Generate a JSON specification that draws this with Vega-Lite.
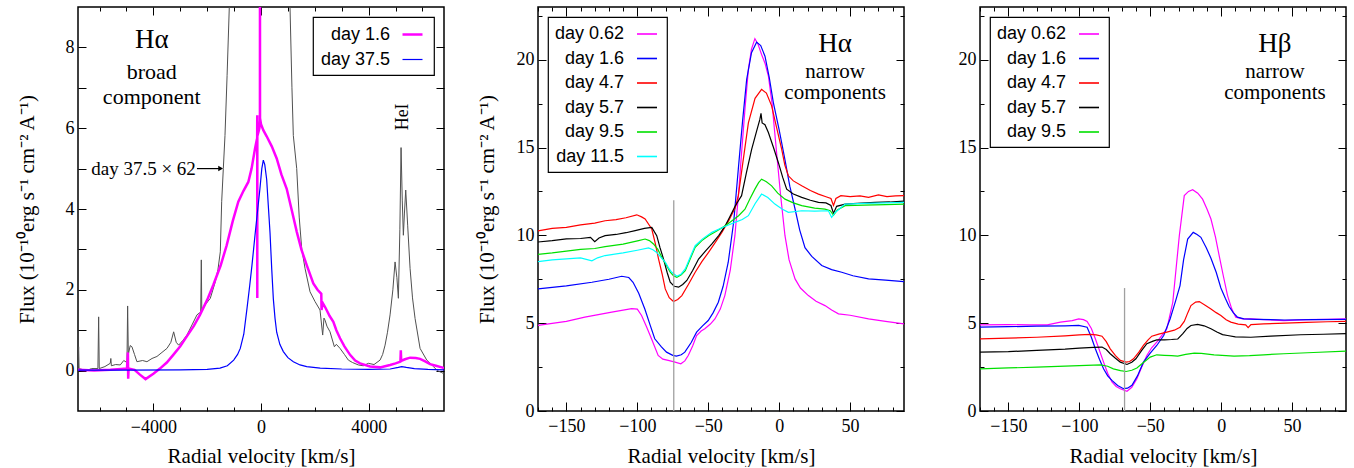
{
 "$schema": "https://vega.github.io/schema/vega-lite/v6.json",
 "background": "white",
 "padding": {"left": 15, "top": 5, "right": 5, "bottom": 0},
 "config": {
  "view": {"stroke": "black", "strokeWidth": 1.5},
  "axis": {"labelFont": "Liberation Serif", "labelFontSize": 18, "titleFont": "Liberation Serif", "titleFontSize": 21, "titleFontWeight": "normal", "labelColor": "black", "titleColor": "black", "tickColor": "black", "tickWidth": 1, "domain": false, "grid": false, "labelOverlap": false, "labelFlush": false},
  "legend": {"labelFont": "Liberation Sans", "labelFontSize": 18, "labelColor": "black", "symbolType": "stroke", "symbolStrokeWidth": 1.6, "symbolSize": 400, "strokeColor": "black", "strokeWidth": 1.2, "fillColor": "white", "padding": 6, "rowPadding": 4.5, "labelAlign": "right", "labelOffset": -34, "symbolOffset": 82, "labelLimit": 300, "offset": 10},
  "text": {"font": "Liberation Serif", "color": "black"}
 },
 "datasets": {
  "p1": [
   {"s":"day 1.6","v":-6800,"f":0.02},{"s":"day 1.6","v":-6200,"f":0.0},{"s":"day 1.6","v":-5600,"f":0.02},{"s":"day 1.6","v":-5200,"f":0.04},{"s":"day 1.6","v":-4980,"f":0.05},{"s":"day 1.6","v":-4945,"f":0.45},{"s":"day 1.6","v":-4935,"f":-0.2},{"s":"day 1.6","v":-4920,"f":0.05},{"s":"day 1.6","v":-4700,"f":0.02},{"s":"day 1.6","v":-4500,"f":-0.1},{"s":"day 1.6","v":-4290,"f":-0.21},{"s":"day 1.6","v":-4000,"f":-0.08},{"s":"day 1.6","v":-3755,"f":0.05},{"s":"day 1.6","v":-3500,"f":0.2},{"s":"day 1.6","v":-3260,"f":0.39},{"s":"day 1.6","v":-3000,"f":0.6},{"s":"day 1.6","v":-2763,"f":0.84},{"s":"day 1.6","v":-2500,"f":1.1},{"s":"day 1.6","v":-2268,"f":1.38},{"s":"day 1.6","v":-2000,"f":1.75},{"s":"day 1.6","v":-1773,"f":2.12},{"s":"day 1.6","v":-1500,"f":2.6},{"s":"day 1.6","v":-1276,"f":3.1},{"s":"day 1.6","v":-1050,"f":3.7},{"s":"day 1.6","v":-843,"f":4.18},{"s":"day 1.6","v":-650,"f":4.45},{"s":"day 1.6","v":-471,"f":4.67},{"s":"day 1.6","v":-350,"f":5.0},{"s":"day 1.6","v":-223,"f":5.49},{"s":"day 1.6","v":-160,"f":5.7},{"s":"day 1.6","v":-142,"f":5.75},{"s":"day 1.6","v":-140,"f":6.32},{"s":"day 1.6","v":-138,"f":1.8},{"s":"day 1.6","v":-136,"f":5.8},{"s":"day 1.6","v":-60,"f":6.0},{"s":"day 1.6","v":-40,"f":6.2},{"s":"day 1.6","v":-38,"f":9.8},{"s":"day 1.6","v":-36,"f":6.25},{"s":"day 1.6","v":0,"f":6.1},{"s":"day 1.6","v":86,"f":5.95},{"s":"day 1.6","v":210,"f":5.8},{"s":"day 1.6","v":400,"f":5.55},{"s":"day 1.6","v":583,"f":5.25},{"s":"day 1.6","v":760,"f":4.85},{"s":"day 1.6","v":955,"f":4.5},{"s":"day 1.6","v":1150,"f":3.95},{"s":"day 1.6","v":1327,"f":3.44},{"s":"day 1.6","v":1500,"f":3.0},{"s":"day 1.6","v":1699,"f":2.61},{"s":"day 1.6","v":1944,"f":2.16},{"s":"day 1.6","v":2100,"f":2.0},{"s":"day 1.6","v":2240,"f":1.9},{"s":"day 1.6","v":2250,"f":1.5},{"s":"day 1.6","v":2290,"f":1.68},{"s":"day 1.6","v":2400,"f":1.55},{"s":"day 1.6","v":2550,"f":1.35},{"s":"day 1.6","v":2688,"f":1.21},{"s":"day 1.6","v":2800,"f":1.0},{"s":"day 1.6","v":2937,"f":0.8},{"s":"day 1.6","v":3100,"f":0.6},{"s":"day 1.6","v":3309,"f":0.39},{"s":"day 1.6","v":3500,"f":0.25},{"s":"day 1.6","v":3680,"f":0.18},{"s":"day 1.6","v":4052,"f":0.1},{"s":"day 1.6","v":4424,"f":0.08},{"s":"day 1.6","v":4796,"f":0.14},{"s":"day 1.6","v":5000,"f":0.18},{"s":"day 1.6","v":5180,"f":0.22},{"s":"day 1.6","v":5195,"f":0.5},{"s":"day 1.6","v":5210,"f":0.24},{"s":"day 1.6","v":5350,"f":0.28},{"s":"day 1.6","v":5539,"f":0.32},{"s":"day 1.6","v":5750,"f":0.31},{"s":"day 1.6","v":5911,"f":0.29},{"s":"day 1.6","v":6100,"f":0.23},{"s":"day 1.6","v":6283,"f":0.16},{"s":"day 1.6","v":6500,"f":0.12},{"s":"day 1.6","v":6717,"f":0.08},{"s":"day 1.6","v":6800,"f":0.06},
   {"s":"day 37.5","v":-6800,"f":0.01},{"s":"day 37.5","v":-5000,"f":0.01},{"s":"day 37.5","v":-3000,"f":0.02},{"s":"day 37.5","v":-2000,"f":0.03},{"s":"day 37.5","v":-1524,"f":0.06},{"s":"day 37.5","v":-1250,"f":0.12},{"s":"day 37.5","v":-1015,"f":0.26},{"s":"day 37.5","v":-870,"f":0.4},{"s":"day 37.5","v":-770,"f":0.55},{"s":"day 37.5","v":-640,"f":0.9},{"s":"day 37.5","v":-520,"f":1.54},{"s":"day 37.5","v":-420,"f":2.1},{"s":"day 37.5","v":-335,"f":2.61},{"s":"day 37.5","v":-223,"f":3.35},{"s":"day 37.5","v":-120,"f":4.0},{"s":"day 37.5","v":-40,"f":4.5},{"s":"day 37.5","v":30,"f":5.0},{"s":"day 37.5","v":86,"f":5.21},{"s":"day 37.5","v":140,"f":5.1},{"s":"day 37.5","v":211,"f":4.73},{"s":"day 37.5","v":270,"f":4.1},{"s":"day 37.5","v":335,"f":3.41},{"s":"day 37.5","v":400,"f":2.5},{"s":"day 37.5","v":459,"f":1.77},{"s":"day 37.5","v":520,"f":1.3},{"s":"day 37.5","v":583,"f":0.95},{"s":"day 37.5","v":700,"f":0.65},{"s":"day 37.5","v":830,"f":0.47},{"s":"day 37.5","v":1000,"f":0.32},{"s":"day 37.5","v":1202,"f":0.22},{"s":"day 37.5","v":1450,"f":0.14},{"s":"day 37.5","v":1699,"f":0.1},{"s":"day 37.5","v":2200,"f":0.06},{"s":"day 37.5","v":3000,"f":0.04},{"s":"day 37.5","v":4000,"f":0.03},{"s":"day 37.5","v":4800,"f":0.04},{"s":"day 37.5","v":5100,"f":0.08},{"s":"day 37.5","v":5230,"f":0.1},{"s":"day 37.5","v":5400,"f":0.08},{"s":"day 37.5","v":5700,"f":0.05},{"s":"day 37.5","v":6200,"f":0.03},{"s":"day 37.5","v":6800,"f":0.02}
  ],
  "p1g": [
   {"v":-6800,"f":0.1},{"v":-6777,"f":0.59},{"v":-6760,"f":0.05},{"v":-6600,"f":0.02},{"v":-6480,"f":0.0},{"v":-6300,"f":0.05},{"v":-6060,"f":0.05},{"v":-6033,"f":1.33},{"v":-6010,"f":0.05},{"v":-5800,"f":0.1},{"v":-5602,"f":0.18},{"v":-5580,"f":0.3},{"v":-5560,"f":0.12},{"v":-5400,"f":0.15},{"v":-5230,"f":0.14},{"v":-5100,"f":0.25},{"v":-4980,"f":0.2},{"v":-4956,"f":1.6},{"v":-4930,"f":0.4},{"v":-4860,"f":0.62},{"v":-4796,"f":0.59},{"v":-4700,"f":0.4},{"v":-4610,"f":0.22},{"v":-4400,"f":0.25},{"v":-4238,"f":0.22},{"v":-4050,"f":0.3},{"v":-3866,"f":0.35},{"v":-3680,"f":0.45},{"v":-3494,"f":0.55},{"v":-3350,"f":0.7},{"v":-3246,"f":0.96},{"v":-3150,"f":0.7},{"v":-3060,"f":0.63},{"v":-2900,"f":0.75},{"v":-2751,"f":0.88},{"v":-2550,"f":1.15},{"v":-2379,"f":1.38},{"v":-2240,"f":1.45},{"v":-2218,"f":2.74},{"v":-2200,"f":1.5},{"v":-2130,"f":1.58},{"v":-1884,"f":1.79},{"v":-1698,"f":2.2},{"v":-1600,"f":2.5},{"v":-1512,"f":2.94},{"v":-1461,"f":4.18},{"v":-1400,"f":5.0},{"v":-1338,"f":5.82},{"v":-1260,"f":7.3},{"v":-1178,"f":9.0},{"v":-1050,"f":12},{"v":-800,"f":25},{"v":-500,"f":95},{"v":0,"f":300},{"v":500,"f":95},{"v":800,"f":25},{"v":1000,"f":12},{"v":1078,"f":9.0},{"v":1150,"f":7.0},{"v":1201,"f":5.82},{"v":1327,"f":5.0},{"v":1420,"f":3.8},{"v":1513,"f":3.02},{"v":1636,"f":2.53},{"v":1822,"f":1.95},{"v":2007,"f":1.71},{"v":2193,"f":1.5},{"v":2292,"f":0.88},{"v":2340,"f":1.3},{"v":2379,"f":1.25},{"v":2450,"f":1.1},{"v":2565,"f":0.96},{"v":2726,"f":0.59},{"v":2800,"f":0.65},{"v":2937,"f":0.55},{"v":3100,"f":0.4},{"v":3246,"f":0.26},{"v":3400,"f":0.2},{"v":3618,"f":0.14},{"v":3800,"f":0.12},{"v":3990,"f":0.18},{"v":4200,"f":0.15},{"v":4424,"f":0.26},{"v":4520,"f":0.4},{"v":4610,"f":0.63},{"v":4700,"f":0.95},{"v":4796,"f":1.38},{"v":4900,"f":2.0},{"v":4981,"f":2.69},{"v":5050,"f":2.3},{"v":5105,"f":1.79},{"v":5160,"f":3.5},{"v":5204,"f":5.52},{"v":5250,"f":4.2},{"v":5290,"f":3.35},{"v":5330,"f":3.9},{"v":5378,"f":4.47},{"v":5450,"f":3.6},{"v":5539,"f":2.53},{"v":5630,"f":1.8},{"v":5725,"f":1.29},{"v":5911,"f":0.55},{"v":6159,"f":0.26},{"v":6407,"f":0.1},{"v":6550,"f":0.0},{"v":6717,"f":-0.05},{"v":6800,"f":-0.08}
  ],
  "p1title": [{"v":-4060,"f":8.18,"t":"Hα"}],
  "p1sub": [{"v":-4060,"f":7.39,"t":"broad"},{"v":-4060,"f":6.77,"t":"component"}],
  "p1ann": [{"v":-2420,"f":5.0,"t":"day 37.5 × 62"}],
  "p1arrow": [{"v1":-2380,"v2":-1480,"f":5.0}],
  "p1head": [{"v":-1500,"f":5.0}],
  "p1hei": [{"v":5290,"f":6.28,"t":"HeI"}],
  "p2": [
   {"s":"day 0.62","v":-170,"f":4.88},{"s":"day 0.62","v":-150,"f":5.1},{"s":"day 0.62","v":-137,"f":5.34},{"s":"day 0.62","v":-118,"f":5.63},{"s":"day 0.62","v":-104,"f":5.83},{"s":"day 0.62","v":-100,"f":5.8},{"s":"day 0.62","v":-97,"f":5.44},{"s":"day 0.62","v":-93.5,"f":4.8},{"s":"day 0.62","v":-90,"f":4.11},{"s":"day 0.62","v":-85.3,"f":3.16},{"s":"day 0.62","v":-82,"f":2.95},{"s":"day 0.62","v":-78.2,"f":2.88},{"s":"day 0.62","v":-74,"f":2.8},{"s":"day 0.62","v":-69.3,"f":2.69},{"s":"day 0.62","v":-66.5,"f":2.85},{"s":"day 0.62","v":-64.1,"f":3.16},{"s":"day 0.62","v":-61,"f":3.7},{"s":"day 0.62","v":-58.2,"f":4.3},{"s":"day 0.62","v":-55,"f":4.55},{"s":"day 0.62","v":-52.4,"f":4.68},{"s":"day 0.62","v":-48.5,"f":4.95},{"s":"day 0.62","v":-45.3,"f":5.24},{"s":"day 0.62","v":-41.5,"f":5.8},{"s":"day 0.62","v":-38.3,"f":6.57},{"s":"day 0.62","v":-34.5,"f":8.0},{"s":"day 0.62","v":-31.2,"f":9.98},{"s":"day 0.62","v":-28.5,"f":12.5},{"s":"day 0.62","v":-26.5,"f":14.7},{"s":"day 0.62","v":-24,"f":17.3},{"s":"day 0.62","v":-21.7,"f":19.45},{"s":"day 0.62","v":-19.5,"f":20.6},{"s":"day 0.62","v":-17.1,"f":21.2},{"s":"day 0.62","v":-15,"f":20.9},{"s":"day 0.62","v":-12.4,"f":20.3},{"s":"day 0.62","v":-10,"f":19.8},{"s":"day 0.62","v":-7.6,"f":19.07},{"s":"day 0.62","v":-5,"f":17.5},{"s":"day 0.62","v":-1.8,"f":14.7},{"s":"day 0.62","v":1,"f":12.3},{"s":"day 0.62","v":4.1,"f":9.98},{"s":"day 0.62","v":7,"f":8.6},{"s":"day 0.62","v":11.2,"f":7.52},{"s":"day 0.62","v":15,"f":7.0},{"s":"day 0.62","v":20.6,"f":6.57},{"s":"day 0.62","v":26,"f":6.25},{"s":"day 0.62","v":32.3,"f":6.0},{"s":"day 0.62","v":37,"f":5.75},{"s":"day 0.62","v":41.8,"f":5.53},{"s":"day 0.62","v":50,"f":5.45},{"s":"day 0.62","v":63,"f":5.24},{"s":"day 0.62","v":75,"f":5.1},{"s":"day 0.62","v":88,"f":4.96},
   {"s":"day 1.6","v":-170,"f":6.95},{"s":"day 1.6","v":-150,"f":7.12},{"s":"day 1.6","v":-132,"f":7.33},{"s":"day 1.6","v":-120,"f":7.5},{"s":"day 1.6","v":-111,"f":7.67},{"s":"day 1.6","v":-106,"f":7.6},{"s":"day 1.6","v":-103,"f":7.33},{"s":"day 1.6","v":-99,"f":6.7},{"s":"day 1.6","v":-94.7,"f":5.81},{"s":"day 1.6","v":-91,"f":4.9},{"s":"day 1.6","v":-87.7,"f":4.11},{"s":"day 1.6","v":-83,"f":3.65},{"s":"day 1.6","v":-79.4,"f":3.35},{"s":"day 1.6","v":-75,"f":3.17},{"s":"day 1.6","v":-72.4,"f":3.13},{"s":"day 1.6","v":-69,"f":3.2},{"s":"day 1.6","v":-66.5,"f":3.35},{"s":"day 1.6","v":-62,"f":3.9},{"s":"day 1.6","v":-58.2,"f":4.49},{"s":"day 1.6","v":-54,"f":4.85},{"s":"day 1.6","v":-50,"f":5.15},{"s":"day 1.6","v":-46.5,"f":5.6},{"s":"day 1.6","v":-42.9,"f":6.19},{"s":"day 1.6","v":-39.5,"f":7.1},{"s":"day 1.6","v":-35.9,"f":8.47},{"s":"day 1.6","v":-32,"f":10.8},{"s":"day 1.6","v":-28.8,"f":13.77},{"s":"day 1.6","v":-25.8,"f":16.5},{"s":"day 1.6","v":-22.9,"f":18.88},{"s":"day 1.6","v":-19.5,"f":20.4},{"s":"day 1.6","v":-15.9,"f":21.0},{"s":"day 1.6","v":-13,"f":20.8},{"s":"day 1.6","v":-10,"f":20.2},{"s":"day 1.6","v":-7,"f":19.0},{"s":"day 1.6","v":-4.1,"f":17.56},{"s":"day 1.6","v":0,"f":16.0},{"s":"day 1.6","v":4.1,"f":14.3},{"s":"day 1.6","v":7.5,"f":12.8},{"s":"day 1.6","v":11.2,"f":11.5},{"s":"day 1.6","v":14.5,"f":10.3},{"s":"day 1.6","v":18.2,"f":9.3},{"s":"day 1.6","v":23,"f":8.8},{"s":"day 1.6","v":30,"f":8.28},{"s":"day 1.6","v":37,"f":8.05},{"s":"day 1.6","v":44.1,"f":7.9},{"s":"day 1.6","v":52,"f":7.7},{"s":"day 1.6","v":63,"f":7.52},{"s":"day 1.6","v":75,"f":7.45},{"s":"day 1.6","v":88,"f":7.37},
   {"s":"day 4.7","v":-170,"f":10.25},{"s":"day 4.7","v":-160,"f":10.4},{"s":"day 4.7","v":-150,"f":10.45},{"s":"day 4.7","v":-140,"f":10.6},{"s":"day 4.7","v":-130,"f":10.7},{"s":"day 4.7","v":-122.7,"f":10.83},{"s":"day 4.7","v":-115,"f":10.9},{"s":"day 4.7","v":-108,"f":11.0},{"s":"day 4.7","v":-100.4,"f":11.17},{"s":"day 4.7","v":-97,"f":11.05},{"s":"day 4.7","v":-94.5,"f":10.93},{"s":"day 4.7","v":-89.8,"f":10.36},{"s":"day 4.7","v":-87.5,"f":9.6},{"s":"day 4.7","v":-85,"f":8.65},{"s":"day 4.7","v":-82.5,"f":7.8},{"s":"day 4.7","v":-80.3,"f":6.95},{"s":"day 4.7","v":-77.5,"f":6.45},{"s":"day 4.7","v":-74.5,"f":6.23},{"s":"day 4.7","v":-71.5,"f":6.35},{"s":"day 4.7","v":-68.6,"f":6.57},{"s":"day 4.7","v":-64,"f":7.2},{"s":"day 4.7","v":-59.2,"f":7.9},{"s":"day 4.7","v":-54.5,"f":8.5},{"s":"day 4.7","v":-49.8,"f":9.03},{"s":"day 4.7","v":-45,"f":9.6},{"s":"day 4.7","v":-40.4,"f":10.17},{"s":"day 4.7","v":-35.5,"f":10.85},{"s":"day 4.7","v":-30.9,"f":11.59},{"s":"day 4.7","v":-28.8,"f":12.26},{"s":"day 4.7","v":-25.5,"f":14.2},{"s":"day 4.7","v":-21.7,"f":16.4},{"s":"day 4.7","v":-17,"f":17.8},{"s":"day 4.7","v":-12.4,"f":18.31},{"s":"day 4.7","v":-9,"f":18.1},{"s":"day 4.7","v":-5.3,"f":17.37},{"s":"day 4.7","v":-2,"f":16.2},{"s":"day 4.7","v":1.8,"f":14.9},{"s":"day 4.7","v":4,"f":14.0},{"s":"day 4.7","v":6.5,"f":13.39},{"s":"day 4.7","v":10,"f":13.1},{"s":"day 4.7","v":15.9,"f":12.82},{"s":"day 4.7","v":22,"f":12.55},{"s":"day 4.7","v":27.7,"f":12.35},{"s":"day 4.7","v":33,"f":12.2},{"s":"day 4.7","v":36.5,"f":12.1},{"s":"day 4.7","v":38.3,"f":11.7},{"s":"day 4.7","v":40,"f":12.1},{"s":"day 4.7","v":43.5,"f":12.26},{"s":"day 4.7","v":50,"f":12.2},{"s":"day 4.7","v":57,"f":12.25},{"s":"day 4.7","v":63,"f":12.16},{"s":"day 4.7","v":70,"f":12.3},{"s":"day 4.7","v":76,"f":12.2},{"s":"day 4.7","v":82,"f":12.25},{"s":"day 4.7","v":88,"f":12.26},
   {"s":"day 5.7","v":-170,"f":9.62},{"s":"day 5.7","v":-160,"f":9.7},{"s":"day 5.7","v":-150,"f":9.8},{"s":"day 5.7","v":-140,"f":9.82},{"s":"day 5.7","v":-133,"f":9.89},{"s":"day 5.7","v":-130,"f":9.64},{"s":"day 5.7","v":-127,"f":9.85},{"s":"day 5.7","v":-122.7,"f":9.98},{"s":"day 5.7","v":-115,"f":10.05},{"s":"day 5.7","v":-108,"f":10.15},{"s":"day 5.7","v":-101.5,"f":10.27},{"s":"day 5.7","v":-95,"f":10.4},{"s":"day 5.7","v":-89.8,"f":10.45},{"s":"day 5.7","v":-86.3,"f":9.98},{"s":"day 5.7","v":-84,"f":9.3},{"s":"day 5.7","v":-81.5,"f":8.65},{"s":"day 5.7","v":-79,"f":7.9},{"s":"day 5.7","v":-76.8,"f":7.33},{"s":"day 5.7","v":-74,"f":7.1},{"s":"day 5.7","v":-70.9,"f":7.05},{"s":"day 5.7","v":-68,"f":7.2},{"s":"day 5.7","v":-65.1,"f":7.43},{"s":"day 5.7","v":-61,"f":8.0},{"s":"day 5.7","v":-56.8,"f":8.65},{"s":"day 5.7","v":-52,"f":9.1},{"s":"day 5.7","v":-47.4,"f":9.51},{"s":"day 5.7","v":-42.5,"f":10.0},{"s":"day 5.7","v":-38,"f":10.55},{"s":"day 5.7","v":-34.5,"f":11.1},{"s":"day 5.7","v":-30.9,"f":11.68},{"s":"day 5.7","v":-28.5,"f":12.0},{"s":"day 5.7","v":-26.5,"f":12.26},{"s":"day 5.7","v":-23,"f":13.6},{"s":"day 5.7","v":-19.4,"f":14.9},{"s":"day 5.7","v":-16,"f":15.9},{"s":"day 5.7","v":-13.6,"f":16.6},{"s":"day 5.7","v":-12.8,"f":16.95},{"s":"day 5.7","v":-12,"f":16.4},{"s":"day 5.7","v":-10,"f":16.3},{"s":"day 5.7","v":-7.6,"f":15.85},{"s":"day 5.7","v":-4,"f":15.0},{"s":"day 5.7","v":-0.6,"f":14.15},{"s":"day 5.7","v":2.5,"f":13.3},{"s":"day 5.7","v":5.3,"f":12.63},{"s":"day 5.7","v":10,"f":12.35},{"s":"day 5.7","v":15.9,"f":12.16},{"s":"day 5.7","v":22,"f":12.0},{"s":"day 5.7","v":27.7,"f":11.88},{"s":"day 5.7","v":33,"f":11.85},{"s":"day 5.7","v":36.5,"f":11.7},{"s":"day 5.7","v":38.3,"f":11.25},{"s":"day 5.7","v":40.5,"f":11.65},{"s":"day 5.7","v":46.5,"f":11.78},{"s":"day 5.7","v":55,"f":11.82},{"s":"day 5.7","v":67.6,"f":11.88},{"s":"day 5.7","v":78,"f":11.9},{"s":"day 5.7","v":88,"f":11.95},
   {"s":"day 9.5","v":-170,"f":8.92},{"s":"day 9.5","v":-160,"f":9.0},{"s":"day 9.5","v":-150,"f":9.1},{"s":"day 9.5","v":-140,"f":9.2},{"s":"day 9.5","v":-130,"f":9.25},{"s":"day 9.5","v":-122.7,"f":9.36},{"s":"day 9.5","v":-110,"f":9.5},{"s":"day 9.5","v":-99.1,"f":9.7},{"s":"day 9.5","v":-94.5,"f":9.79},{"s":"day 9.5","v":-91.5,"f":9.7},{"s":"day 9.5","v":-88.6,"f":9.51},{"s":"day 9.5","v":-85.5,"f":9.2},{"s":"day 9.5","v":-82.7,"f":8.75},{"s":"day 9.5","v":-79.5,"f":8.3},{"s":"day 9.5","v":-76.8,"f":7.9},{"s":"day 9.5","v":-74.5,"f":7.7},{"s":"day 9.5","v":-72.1,"f":7.61},{"s":"day 9.5","v":-69,"f":7.75},{"s":"day 9.5","v":-66.2,"f":7.99},{"s":"day 9.5","v":-62.5,"f":8.7},{"s":"day 9.5","v":-59.2,"f":9.32},{"s":"day 9.5","v":-54.5,"f":9.7},{"s":"day 9.5","v":-49.8,"f":9.98},{"s":"day 9.5","v":-44,"f":10.25},{"s":"day 9.5","v":-38,"f":10.55},{"s":"day 9.5","v":-33,"f":10.85},{"s":"day 9.5","v":-28.6,"f":11.12},{"s":"day 9.5","v":-24.1,"f":11.49},{"s":"day 9.5","v":-20.5,"f":12.1},{"s":"day 9.5","v":-17.1,"f":12.63},{"s":"day 9.5","v":-14.5,"f":13.0},{"s":"day 9.5","v":-12.4,"f":13.2},{"s":"day 9.5","v":-9,"f":13.05},{"s":"day 9.5","v":-5.3,"f":12.82},{"s":"day 9.5","v":-1,"f":12.4},{"s":"day 9.5","v":4.1,"f":12.06},{"s":"day 9.5","v":10,"f":11.85},{"s":"day 9.5","v":15.9,"f":11.69},{"s":"day 9.5","v":25,"f":11.55},{"s":"day 9.5","v":32.3,"f":11.49},{"s":"day 9.5","v":36,"f":11.4},{"s":"day 9.5","v":38.3,"f":11.15},{"s":"day 9.5","v":41,"f":11.45},{"s":"day 9.5","v":46.5,"f":11.69},{"s":"day 9.5","v":60,"f":11.72},{"s":"day 9.5","v":75,"f":11.75},{"s":"day 9.5","v":88,"f":11.78},
   {"s":"day 11.5","v":-170,"f":8.5},{"s":"day 11.5","v":-160,"f":8.6},{"s":"day 11.5","v":-150,"f":8.66},{"s":"day 11.5","v":-140,"f":8.72},{"s":"day 11.5","v":-132,"f":8.55},{"s":"day 11.5","v":-128,"f":8.72},{"s":"day 11.5","v":-122.7,"f":8.85},{"s":"day 11.5","v":-110,"f":9.0},{"s":"day 11.5","v":-100,"f":9.15},{"s":"day 11.5","v":-92.1,"f":9.28},{"s":"day 11.5","v":-89,"f":9.18},{"s":"day 11.5","v":-86.3,"f":9.03},{"s":"day 11.5","v":-83.3,"f":8.75},{"s":"day 11.5","v":-80.3,"f":8.47},{"s":"day 11.5","v":-78,"f":8.15},{"s":"day 11.5","v":-75.7,"f":7.9},{"s":"day 11.5","v":-72.1,"f":7.67},{"s":"day 11.5","v":-69,"f":7.8},{"s":"day 11.5","v":-66.2,"f":8.09},{"s":"day 11.5","v":-62.5,"f":8.8},{"s":"day 11.5","v":-59.2,"f":9.41},{"s":"day 11.5","v":-54,"f":9.8},{"s":"day 11.5","v":-47.4,"f":10.17},{"s":"day 11.5","v":-40,"f":10.45},{"s":"day 11.5","v":-34,"f":10.65},{"s":"day 11.5","v":-31.2,"f":10.74},{"s":"day 11.5","v":-26,"f":10.9},{"s":"day 11.5","v":-21.7,"f":11.12},{"s":"day 11.5","v":-17,"f":11.8},{"s":"day 11.5","v":-12.4,"f":12.35},{"s":"day 11.5","v":-8,"f":12.15},{"s":"day 11.5","v":-3,"f":11.78},{"s":"day 11.5","v":2,"f":11.5},{"s":"day 11.5","v":6.5,"f":11.31},{"s":"day 11.5","v":15.9,"f":11.4},{"s":"day 11.5","v":25,"f":11.38},{"s":"day 11.5","v":34.7,"f":11.4},{"s":"day 11.5","v":37,"f":11.02},{"s":"day 11.5","v":39.5,"f":11.3},{"s":"day 11.5","v":46.5,"f":11.78},{"s":"day 11.5","v":60,"f":11.82},{"s":"day 11.5","v":75,"f":11.85},{"s":"day 11.5","v":88,"f":11.88}
  ],
  "p2line": [{"v":-74.3,"f0":0,"f1":12.0}],
  "p2title": [{"v":39.4,"f":20.87,"t":"Hα"}],
  "p2sub": [{"v":39.4,"f":19.32,"t":"narrow"},{"v":39.4,"f":18.09,"t":"components"}],
  "p3": [
   {"s":"day 0.62","v":-170,"f":4.9},{"s":"day 0.62","v":-150,"f":4.92},{"s":"day 0.62","v":-135,"f":4.9},{"s":"day 0.62","v":-122.6,"f":4.9},{"s":"day 0.62","v":-113.3,"f":5.06},{"s":"day 0.62","v":-105,"f":5.15},{"s":"day 0.62","v":-100.4,"f":5.24},{"s":"day 0.62","v":-97,"f":5.2},{"s":"day 0.62","v":-94.5,"f":5.1},{"s":"day 0.62","v":-91.5,"f":4.7},{"s":"day 0.62","v":-88.7,"f":4.11},{"s":"day 0.62","v":-85.8,"f":3.45},{"s":"day 0.62","v":-82.9,"f":2.78},{"s":"day 0.62","v":-80,"f":2.15},{"s":"day 0.62","v":-77,"f":1.65},{"s":"day 0.62","v":-74,"f":1.4},{"s":"day 0.62","v":-71.1,"f":1.27},{"s":"day 0.62","v":-66.4,"f":1.12},{"s":"day 0.62","v":-63,"f":1.35},{"s":"day 0.62","v":-59.4,"f":1.84},{"s":"day 0.62","v":-56,"f":2.5},{"s":"day 0.62","v":-52.4,"f":3.16},{"s":"day 0.62","v":-49,"f":3.6},{"s":"day 0.62","v":-45.4,"f":3.92},{"s":"day 0.62","v":-41.8,"f":4.3},{"s":"day 0.62","v":-38.3,"f":4.68},{"s":"day 0.62","v":-34.1,"f":6.19},{"s":"day 0.62","v":-29.5,"f":9.98},{"s":"day 0.62","v":-26,"f":12.26},{"s":"day 0.62","v":-23,"f":12.5},{"s":"day 0.62","v":-20.1,"f":12.6},{"s":"day 0.62","v":-16.5,"f":12.4},{"s":"day 0.62","v":-13.1,"f":12.06},{"s":"day 0.62","v":-10,"f":11.5},{"s":"day 0.62","v":-7.2,"f":10.93},{"s":"day 0.62","v":-4,"f":9.9},{"s":"day 0.62","v":-1.4,"f":8.85},{"s":"day 0.62","v":1.5,"f":7.7},{"s":"day 0.62","v":4.5,"f":6.57},{"s":"day 0.62","v":7.5,"f":5.8},{"s":"day 0.62","v":10.3,"f":5.34},{"s":"day 0.62","v":15,"f":5.25},{"s":"day 0.62","v":20.9,"f":5.24},{"s":"day 0.62","v":30,"f":5.2},{"s":"day 0.62","v":44.2,"f":5.15},{"s":"day 0.62","v":60,"f":5.2},{"s":"day 0.62","v":75,"f":5.22},{"s":"day 0.62","v":88,"f":5.24},
   {"s":"day 1.6","v":-170,"f":4.77},{"s":"day 1.6","v":-150,"f":4.8},{"s":"day 1.6","v":-130,"f":4.83},{"s":"day 1.6","v":-110,"f":4.85},{"s":"day 1.6","v":-100.4,"f":4.87},{"s":"day 1.6","v":-94.5,"f":4.77},{"s":"day 1.6","v":-91.5,"f":4.2},{"s":"day 1.6","v":-88.7,"f":3.54},{"s":"day 1.6","v":-85.8,"f":2.95},{"s":"day 1.6","v":-82.9,"f":2.4},{"s":"day 1.6","v":-80,"f":2.0},{"s":"day 1.6","v":-77,"f":1.74},{"s":"day 1.6","v":-73,"f":1.45},{"s":"day 1.6","v":-68.8,"f":1.27},{"s":"day 1.6","v":-66,"f":1.3},{"s":"day 1.6","v":-62.9,"f":1.46},{"s":"day 1.6","v":-59,"f":2.0},{"s":"day 1.6","v":-54.8,"f":2.78},{"s":"day 1.6","v":-50,"f":3.3},{"s":"day 1.6","v":-45.4,"f":3.73},{"s":"day 1.6","v":-40.5,"f":4.3},{"s":"day 1.6","v":-36,"f":5.24},{"s":"day 1.6","v":-32,"f":6.3},{"s":"day 1.6","v":-29,"f":7.14},{"s":"day 1.6","v":-26.5,"f":8.6},{"s":"day 1.6","v":-23.6,"f":9.79},{"s":"day 1.6","v":-19.7,"f":10.17},{"s":"day 1.6","v":-17,"f":10.05},{"s":"day 1.6","v":-14.3,"f":9.89},{"s":"day 1.6","v":-10.5,"f":9.3},{"s":"day 1.6","v":-7.2,"f":8.7},{"s":"day 1.6","v":-3.5,"f":7.9},{"s":"day 1.6","v":-0.2,"f":7.0},{"s":"day 1.6","v":3,"f":6.4},{"s":"day 1.6","v":5.6,"f":5.95},{"s":"day 1.6","v":8.5,"f":5.6},{"s":"day 1.6","v":11.5,"f":5.34},{"s":"day 1.6","v":16,"f":5.25},{"s":"day 1.6","v":25,"f":5.22},{"s":"day 1.6","v":45,"f":5.18},{"s":"day 1.6","v":65,"f":5.2},{"s":"day 1.6","v":88,"f":5.22},
   {"s":"day 4.7","v":-170,"f":4.11},{"s":"day 4.7","v":-150,"f":4.15},{"s":"day 4.7","v":-130,"f":4.2},{"s":"day 4.7","v":-110,"f":4.28},{"s":"day 4.7","v":-100,"f":4.33},{"s":"day 4.7","v":-92.2,"f":4.36},{"s":"day 4.7","v":-88,"f":4.33},{"s":"day 4.7","v":-84,"f":4.26},{"s":"day 4.7","v":-81,"f":3.95},{"s":"day 4.7","v":-78.2,"f":3.54},{"s":"day 4.7","v":-74.5,"f":3.15},{"s":"day 4.7","v":-71.1,"f":2.88},{"s":"day 4.7","v":-67,"f":2.78},{"s":"day 4.7","v":-64.5,"f":2.82},{"s":"day 4.7","v":-61.8,"f":2.97},{"s":"day 4.7","v":-58,"f":3.35},{"s":"day 4.7","v":-54.8,"f":3.73},{"s":"day 4.7","v":-51.5,"f":4.05},{"s":"day 4.7","v":-48.9,"f":4.26},{"s":"day 4.7","v":-44,"f":4.38},{"s":"day 4.7","v":-38.3,"f":4.49},{"s":"day 4.7","v":-33,"f":4.6},{"s":"day 4.7","v":-29,"f":4.77},{"s":"day 4.7","v":-26,"f":5.1},{"s":"day 4.7","v":-23.5,"f":5.6},{"s":"day 4.7","v":-21.3,"f":6.0},{"s":"day 4.7","v":-18,"f":6.2},{"s":"day 4.7","v":-15.4,"f":6.23},{"s":"day 4.7","v":-11,"f":6.0},{"s":"day 4.7","v":-7.2,"f":5.81},{"s":"day 4.7","v":-3.5,"f":5.6},{"s":"day 4.7","v":-0.2,"f":5.44},{"s":"day 4.7","v":3.5,"f":5.2},{"s":"day 4.7","v":6.8,"f":5.06},{"s":"day 4.7","v":12,"f":4.95},{"s":"day 4.7","v":17.3,"f":4.9},{"s":"day 4.7","v":19,"f":4.75},{"s":"day 4.7","v":21,"f":4.92},{"s":"day 4.7","v":30,"f":4.96},{"s":"day 4.7","v":45,"f":5.0},{"s":"day 4.7","v":60,"f":5.05},{"s":"day 4.7","v":75,"f":5.08},{"s":"day 4.7","v":88,"f":5.1},
   {"s":"day 5.7","v":-170,"f":3.35},{"s":"day 5.7","v":-150,"f":3.38},{"s":"day 5.7","v":-130,"f":3.45},{"s":"day 5.7","v":-110,"f":3.52},{"s":"day 5.7","v":-100,"f":3.58},{"s":"day 5.7","v":-90,"f":3.62},{"s":"day 5.7","v":-84,"f":3.64},{"s":"day 5.7","v":-81,"f":3.5},{"s":"day 5.7","v":-78.2,"f":3.26},{"s":"day 5.7","v":-74.5,"f":3.0},{"s":"day 5.7","v":-71.1,"f":2.78},{"s":"day 5.7","v":-66.4,"f":2.65},{"s":"day 5.7","v":-63,"f":2.78},{"s":"day 5.7","v":-60.1,"f":2.97},{"s":"day 5.7","v":-56,"f":3.45},{"s":"day 5.7","v":-52.4,"f":3.83},{"s":"day 5.7","v":-48,"f":3.98},{"s":"day 5.7","v":-45.4,"f":4.05},{"s":"day 5.7","v":-40,"f":4.05},{"s":"day 5.7","v":-35,"f":4.07},{"s":"day 5.7","v":-30.6,"f":4.1},{"s":"day 5.7","v":-27,"f":4.4},{"s":"day 5.7","v":-24,"f":4.7},{"s":"day 5.7","v":-21.3,"f":4.87},{"s":"day 5.7","v":-16.6,"f":4.93},{"s":"day 5.7","v":-12,"f":4.85},{"s":"day 5.7","v":-7.2,"f":4.68},{"s":"day 5.7","v":-3,"f":4.5},{"s":"day 5.7","v":1,"f":4.35},{"s":"day 5.7","v":4.5,"f":4.3},{"s":"day 5.7","v":10,"f":4.22},{"s":"day 5.7","v":20.9,"f":4.2},{"s":"day 5.7","v":35,"f":4.26},{"s":"day 5.7","v":56,"f":4.34},{"s":"day 5.7","v":72,"f":4.37},{"s":"day 5.7","v":88,"f":4.4},
   {"s":"day 9.5","v":-170,"f":2.4},{"s":"day 9.5","v":-150,"f":2.45},{"s":"day 9.5","v":-130,"f":2.5},{"s":"day 9.5","v":-110,"f":2.56},{"s":"day 9.5","v":-95,"f":2.6},{"s":"day 9.5","v":-85,"f":2.63},{"s":"day 9.5","v":-80,"f":2.55},{"s":"day 9.5","v":-76,"f":2.4},{"s":"day 9.5","v":-71,"f":2.3},{"s":"day 9.5","v":-67,"f":2.25},{"s":"day 9.5","v":-63,"f":2.32},{"s":"day 9.5","v":-59.4,"f":2.45},{"s":"day 9.5","v":-55,"f":2.75},{"s":"day 9.5","v":-50,"f":3.07},{"s":"day 9.5","v":-45.4,"f":3.2},{"s":"day 9.5","v":-40,"f":3.17},{"s":"day 9.5","v":-35,"f":3.15},{"s":"day 9.5","v":-30.6,"f":3.12},{"s":"day 9.5","v":-25,"f":3.22},{"s":"day 9.5","v":-19,"f":3.3},{"s":"day 9.5","v":-14,"f":3.28},{"s":"day 9.5","v":-5,"f":3.2},{"s":"day 9.5","v":9.1,"f":3.12},{"s":"day 9.5","v":20,"f":3.15},{"s":"day 9.5","v":30,"f":3.2},{"s":"day 9.5","v":44.2,"f":3.26},{"s":"day 9.5","v":65,"f":3.33},{"s":"day 9.5","v":88,"f":3.41}
  ],
  "p3line": [{"v":-68.1,"f0":0,"f1":7.0}],
  "p3title": [{"v":37.9,"f":20.87,"t":"Hβ"}],
  "p3sub": [{"v":37.9,"f":19.32,"t":"narrow"},{"v":37.9,"f":18.09,"t":"components"}]
 },
 "bounds": "flush",
 "spacing": 94,
 "resolve": {"scale": {"color": "independent", "strokeWidth": "independent"}, "legend": {"color": "independent"}},
 "hconcat": [
  {
   "width": 366, "height": 404,
   "resolve": {"axis": {"x": "independent", "y": "independent"}},
   "layer": [
    {"data": {"name": "p1g"}, "mark": {"type": "line", "clip": true, "color": "#505050", "strokeWidth": 1},
     "encoding": {
      "x": {"field": "v", "type": "quantitative", "scale": {"domain": [-6800, 6800], "nice": false, "zero": false},
            "axis": {"orient": "bottom", "title": "Radial velocity [km/s]", "values": [-6000,-5000,-4000,-3000,-2000,-1000,0,1000,2000,3000,4000,5000,6000], "labelExpr": "datum.value % 4000 === 0 ? format(datum.value, 'd') : ''", "tickSize": {"condition": {"test": "datum.value % 4000 === 0", "value": -8}, "value": -4}, "labelPadding": 15, "titlePadding": 5}},
      "y": {"field": "f", "type": "quantitative", "scale": {"domain": [-1, 9], "nice": false, "zero": false},
            "axis": {"orient": "left", "title": "Flux (10⁻¹⁰erg s⁻¹ cm⁻² A⁻¹)", "values": [0,1,2,3,4,5,6,7,8], "labelExpr": "datum.value % 2 === 0 ? format(datum.value, 'd') : ''", "tickSize": -8, "labelPadding": 12, "titlePadding": 28}}
     }},
    {"data": {"name": "p1"}, "mark": {"type": "line", "clip": true},
     "encoding": {
      "x": {"field": "v", "type": "quantitative", "axis": null},
      "y": {"field": "f", "type": "quantitative", "axis": null},
      "color": {"field": "s", "type": "nominal", "scale": {"domain": ["day 1.6", "day 37.5"], "range": ["#ff00ff", "#0000ff"]}, "legend": {"orient": "top-right", "title": null}},
      "strokeWidth": {"field": "s", "type": "nominal", "scale": {"domain": ["day 1.6", "day 37.5"], "range": [2.5, 1.2]}, "legend": null}
     }},
    {"data": {"name": "p1title"}, "mark": {"type": "text", "fontSize": 27, "baseline": "middle", "align": "center"},
     "encoding": {"x": {"field": "v", "type": "quantitative", "axis": null}, "y": {"field": "f", "type": "quantitative", "axis": null}, "text": {"field": "t"}}},
    {"data": {"name": "p1sub"}, "mark": {"type": "text", "fontSize": 22, "baseline": "middle", "align": "center"},
     "encoding": {"x": {"field": "v", "type": "quantitative", "axis": null}, "y": {"field": "f", "type": "quantitative", "axis": null}, "text": {"field": "t"}}},
    {"data": {"name": "p1ann"}, "mark": {"type": "text", "fontSize": 19, "baseline": "middle", "align": "right"},
     "encoding": {"x": {"field": "v", "type": "quantitative", "axis": null}, "y": {"field": "f", "type": "quantitative", "axis": null}, "text": {"field": "t"}}},
    {"data": {"name": "p1arrow"}, "mark": {"type": "rule", "color": "black", "strokeWidth": 1.2},
     "encoding": {"x": {"field": "v1", "type": "quantitative", "axis": null}, "x2": {"field": "v2"}, "y": {"field": "f", "type": "quantitative", "axis": null}}},
    {"data": {"name": "p1head"}, "mark": {"type": "point", "shape": "triangle-right", "filled": true, "color": "black", "size": 30, "opacity": 1},
     "encoding": {"x": {"field": "v", "type": "quantitative", "axis": null}, "y": {"field": "f", "type": "quantitative", "axis": null}}},
    {"data": {"name": "p1hei"}, "mark": {"type": "text", "fontSize": 18, "baseline": "middle", "align": "center", "angle": 270},
     "encoding": {
      "x": {"field": "v", "type": "quantitative", "axis": {"orient": "top", "title": null, "labels": false, "values": [-6000,-5000,-4000,-3000,-2000,-1000,0,1000,2000,3000,4000,5000,6000], "tickSize": {"condition": {"test": "datum.value % 4000 === 0", "value": -8}, "value": -4}}},
      "y": {"field": "f", "type": "quantitative", "axis": {"orient": "right", "title": null, "labels": false, "values": [0,1,2,3,4,5,6,7,8], "tickSize": -8}},
      "text": {"field": "t"}}}
   ]
  },
  {
   "bounds": "flush",
   "spacing": 76,
   "resolve": {"scale": {"color": "independent"}, "legend": {"color": "independent"}},
   "hconcat": [
    {
     "width": 366, "height": 404,
     "resolve": {"axis": {"x": "independent", "y": "independent"}},
     "layer": [
      {"data": {"name": "p2"}, "mark": {"type": "line", "clip": true, "strokeWidth": 1.2},
       "encoding": {
        "x": {"field": "v", "type": "quantitative", "scale": {"domain": [-170, 88], "nice": false, "zero": false},
              "axis": {"orient": "bottom", "title": "Radial velocity [km/s]", "values": [-170,-160,-150,-140,-130,-120,-110,-100,-90,-80,-70,-60,-50,-40,-30,-20,-10,0,10,20,30,40,50,60,70,80], "labelExpr": "datum.value % 50 === 0 ? format(datum.value, 'd') : ''", "tickSize": {"condition": {"test": "datum.value % 50 === 0", "value": -9}, "value": -4}, "labelPadding": 15, "titlePadding": 5}},
        "y": {"field": "f", "type": "quantitative", "scale": {"domain": [0, 23], "nice": false, "zero": false},
              "axis": {"orient": "left", "title": "Flux (10⁻¹⁰erg s⁻¹ cm⁻² A⁻¹)", "values": [0,2.5,5,7.5,10,12.5,15,17.5,20,22.5], "labelExpr": "datum.value % 5 === 0 ? format(datum.value, 'd') : ''", "tickSize": {"condition": {"test": "datum.value % 5 === 0", "value": -8}, "value": -4}, "labelPadding": 12, "titlePadding": 19}},
        "color": {"field": "s", "type": "nominal", "scale": {"domain": ["day 0.62", "day 1.6", "day 4.7", "day 5.7", "day 9.5", "day 11.5"], "range": ["#ff00ff", "#0000ff", "#ff0000", "#000000", "#00e000", "#00ffff"]}, "legend": {"orient": "top-left", "title": null}}
       }},
      {"data": {"name": "p2title"}, "mark": {"type": "text", "fontSize": 27, "baseline": "middle", "align": "center"},
       "encoding": {"x": {"field": "v", "type": "quantitative", "axis": null}, "y": {"field": "f", "type": "quantitative", "axis": null}, "text": {"field": "t"}}},
      {"data": {"name": "p2sub"}, "mark": {"type": "text", "fontSize": 21, "baseline": "middle", "align": "center"},
       "encoding": {"x": {"field": "v", "type": "quantitative", "axis": null}, "y": {"field": "f", "type": "quantitative", "axis": null}, "text": {"field": "t"}}},
      {"data": {"name": "p2line"}, "mark": {"type": "rule", "color": "#a0a0a0", "strokeWidth": 1.3},
       "encoding": {
        "x": {"field": "v", "type": "quantitative", "axis": {"orient": "top", "title": null, "labels": false, "values": [-170,-160,-150,-140,-130,-120,-110,-100,-90,-80,-70,-60,-50,-40,-30,-20,-10,0,10,20,30,40,50,60,70,80], "tickSize": {"condition": {"test": "datum.value % 50 === 0", "value": -9}, "value": -4}}},
        "y": {"field": "f0", "type": "quantitative", "axis": {"orient": "right", "title": null, "labels": false, "values": [0,2.5,5,7.5,10,12.5,15,17.5,20,22.5], "tickSize": {"condition": {"test": "datum.value % 5 === 0", "value": -8}, "value": -4}}},
        "y2": {"field": "f1"}}}
     ]
    },
    {
     "width": 366, "height": 404,
     "resolve": {"axis": {"x": "independent", "y": "independent"}},
     "layer": [
      {"data": {"name": "p3"}, "mark": {"type": "line", "clip": true, "strokeWidth": 1.2},
       "encoding": {
        "x": {"field": "v", "type": "quantitative", "scale": {"domain": [-170, 88], "nice": false, "zero": false},
              "axis": {"orient": "bottom", "title": "Radial velocity [km/s]", "values": [-170,-160,-150,-140,-130,-120,-110,-100,-90,-80,-70,-60,-50,-40,-30,-20,-10,0,10,20,30,40,50,60,70,80], "labelExpr": "datum.value % 50 === 0 ? format(datum.value, 'd') : ''", "tickSize": {"condition": {"test": "datum.value % 50 === 0", "value": -9}, "value": -4}, "labelPadding": 15, "titlePadding": 5}},
        "y": {"field": "f", "type": "quantitative", "scale": {"domain": [0, 23], "nice": false, "zero": false},
              "axis": {"orient": "left", "title": null, "values": [0,2.5,5,7.5,10,12.5,15,17.5,20,22.5], "labelExpr": "datum.value % 5 === 0 ? format(datum.value, 'd') : ''", "tickSize": {"condition": {"test": "datum.value % 5 === 0", "value": -8}, "value": -4}, "labelPadding": 12}},
        "color": {"field": "s", "type": "nominal", "scale": {"domain": ["day 0.62", "day 1.6", "day 4.7", "day 5.7", "day 9.5"], "range": ["#ff00ff", "#0000ff", "#ff0000", "#000000", "#00e000"]}, "legend": {"orient": "top-left", "title": null}}
       }},
      {"data": {"name": "p3title"}, "mark": {"type": "text", "fontSize": 27, "baseline": "middle", "align": "center"},
       "encoding": {"x": {"field": "v", "type": "quantitative", "axis": null}, "y": {"field": "f", "type": "quantitative", "axis": null}, "text": {"field": "t"}}},
      {"data": {"name": "p3sub"}, "mark": {"type": "text", "fontSize": 21, "baseline": "middle", "align": "center"},
       "encoding": {"x": {"field": "v", "type": "quantitative", "axis": null}, "y": {"field": "f", "type": "quantitative", "axis": null}, "text": {"field": "t"}}},
      {"data": {"name": "p3line"}, "mark": {"type": "rule", "color": "#a0a0a0", "strokeWidth": 1.3},
       "encoding": {
        "x": {"field": "v", "type": "quantitative", "axis": {"orient": "top", "title": null, "labels": false, "values": [-170,-160,-150,-140,-130,-120,-110,-100,-90,-80,-70,-60,-50,-40,-30,-20,-10,0,10,20,30,40,50,60,70,80], "tickSize": {"condition": {"test": "datum.value % 50 === 0", "value": -9}, "value": -4}}},
        "y": {"field": "f0", "type": "quantitative", "axis": {"orient": "right", "title": null, "labels": false, "values": [0,2.5,5,7.5,10,12.5,15,17.5,20,22.5], "tickSize": {"condition": {"test": "datum.value % 5 === 0", "value": -8}, "value": -4}}},
        "y2": {"field": "f1"}}}
     ]
    }
   ]
  }
 ]
}
